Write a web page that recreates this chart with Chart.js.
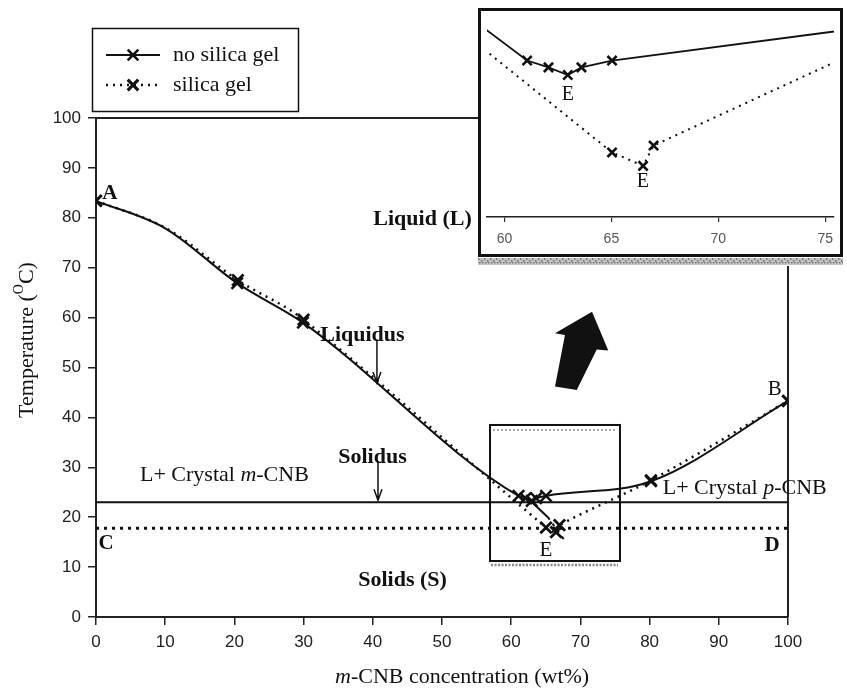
<!DOCTYPE html>
<html><head><meta charset="utf-8">
<script src="https://cdn.jsdelivr.net/npm/chart.js@4/dist/chart.umd.min.js"></script>
<style>
html,body{margin:0;padding:0;background:#fff;}
#wrap{position:relative;width:847px;height:692px;overflow:hidden;}
#main{position:absolute;left:0;top:0;}
#inset{position:absolute;left:478px;top:8px;}
</style></head><body>
<div id="wrap"><canvas id="main" width="847" height="692"></canvas><canvas id="inset" width="365" height="258"></canvas></div>
<script>
// ---- data ----
const xNoSilica = [0, 10, 20.4, 29.9, 61.06, 62.06, 62.96, 63.6, 65.03, 80.2, 100];
const tNoSilica = [83.4, 77.9, 66.9, 59.0, 24.27, 23.8, 23.27, 23.8, 24.27, 27.2, 43.3];
const xSilica = [0, 10, 20.5, 30, 65.03, 66.48, 66.97, 80.2, 100];
const tSilica = [83.4, 78.0, 67.5, 59.6, 17.93, 17.0, 18.4, 27.4, 43.3];
const curveOnlyX = [10];            // points on the curve that carry no marker
const solidusX = [0, 100];
const solidusNoSilica = [23.0, 23.0];
const solidusSilica = [17.8, 17.8];
const extensionX = [62.7, 65.3, 68.0];
const extensionT = [23.4, 20.0, 14.8];
const xTicks = [0, 10, 20, 30, 40, 50, 60, 70, 80, 90, 100];
const yTicks = [0, 10, 20, 30, 40, 50, 60, 70, 80, 90, 100];
const insetTicks = [60, 65, 70, 75];
const seriesNames = ['no silica gel', 'silica gel'];

const pts = (xs, ys) => xs.map((x, i) => ({x: x, y: ys[i]}));
const SERIF = '"Liberation Serif", "DejaVu Serif", serif';
const SANS = '"Liberation Sans", Arial, sans-serif';
const INK = '#111';

function drawRuns(ctx, runs, x, y, align) {
  let total = 0;
  runs.forEach(r => { ctx.font = r[1]; total += ctx.measureText(r[0]).width; });
  let cx = align === 'center' ? x - total / 2 : (align === 'right' ? x - total : x);
  ctx.textAlign = 'left';
  runs.forEach(r => { ctx.font = r[1]; ctx.fillText(r[0], cx, y + (r[2] || 0)); cx += ctx.measureText(r[0]).width; });
}
function cross(ctx, cx, cy, r, w) {
  const d = r * Math.SQRT1_2;
  ctx.save(); ctx.lineWidth = w; ctx.strokeStyle = INK; ctx.setLineDash([]);
  ctx.beginPath(); ctx.moveTo(cx - d, cy - d); ctx.lineTo(cx + d, cy + d);
  ctx.moveTo(cx + d, cy - d); ctx.lineTo(cx - d, cy + d); ctx.stroke(); ctx.restore();
}
function downArrow(ctx, x, yTop, yTip) {
  ctx.beginPath(); ctx.moveTo(x, yTop); ctx.lineTo(x, yTip);
  ctx.moveTo(x - 4, yTip - 11); ctx.lineTo(x, yTip); ctx.lineTo(x + 4, yTip - 11); ctx.stroke();
}

const decoMain = {
  id: 'decoMain',
  afterDraw(chart) {
    const {ctx, chartArea: a, scales} = chart;
    const X = v => scales.x.getPixelForValue(v), Y = v => scales.y.getPixelForValue(v);
    ctx.save();
    ctx.strokeStyle = '#222'; ctx.lineWidth = 2; ctx.setLineDash([]);
    ctx.beginPath(); ctx.moveTo(a.left, a.top); ctx.lineTo(a.right, a.top); ctx.lineTo(a.right, a.bottom); ctx.stroke();

    // zoom box
    const bx0 = X(56.94), bx1 = X(75.72), by0 = Y(38.48), by1 = Y(11.22);
    ctx.strokeStyle = INK; ctx.lineWidth = 2;
    ctx.strokeRect(bx0, by0, bx1 - bx0, by1 - by0);
    ctx.strokeStyle = '#8a8a8a'; ctx.lineWidth = 1.5; ctx.setLineDash([2, 2]);
    ctx.beginPath(); ctx.moveTo(bx0 + 3, by0 + 5); ctx.lineTo(bx1 - 3, by0 + 5); ctx.stroke();
    ctx.lineWidth = 2.5; ctx.setLineDash([2, 1.5]);
    ctx.beginPath(); ctx.moveTo(bx0 + 1, by1 + 4); ctx.lineTo(bx1 - 2, by1 + 4); ctx.stroke();
    ctx.setLineDash([]);

    // big arrow
    const arrow = [[71.68, 61.18], [74.03, 53.41], [72.36, 53.6], [69.47, 45.5], [66.33, 46.17], [67.77, 56.51], [66.33, 56.85]];
    ctx.fillStyle = INK; ctx.beginPath();
    arrow.forEach((p, i) => { const px = X(p[0]), py = Y(p[1]); i ? ctx.lineTo(px, py) : ctx.moveTo(px, py); });
    ctx.closePath(); ctx.fill();

    // labels
    ctx.fillStyle = INK; ctx.textBaseline = 'middle';
    const B22 = 'bold 22px ' + SERIF, R22 = '22px ' + SERIF, I22 = 'italic 22px ' + SERIF;
    drawRuns(ctx, [['A', 'bold 21px ' + SERIF]], X(2.0), Y(84.8), 'center');
    drawRuns(ctx, [['B', '21px ' + SERIF]], X(98.1), Y(45.5), 'center');
    drawRuns(ctx, [['C', 'bold 21px ' + SERIF]], X(1.45), Y(14.8), 'center');
    drawRuns(ctx, [['D', 'bold 21px ' + SERIF]], X(97.7), Y(14.4), 'center');
    drawRuns(ctx, [['E', '21px ' + SERIF]], X(65.0), Y(13.4), 'center');
    drawRuns(ctx, [['Liquid (L)', B22]], X(54.3), Y(79.6), 'right');
    drawRuns(ctx, [['Liquidus', B22]], X(32.4), Y(56.5), 'left');
    drawRuns(ctx, [['Solidus', B22]], X(35.0), Y(32.1), 'left');
    drawRuns(ctx, [['Solids (S)', B22]], X(37.9), Y(7.4), 'left');
    drawRuns(ctx, [['L+ Crystal ', R22], ['m', I22], ['-CNB', R22]], X(6.36), Y(28.5), 'left');
    drawRuns(ctx, [['L+ Crystal ', R22], ['p', I22], ['-CNB', R22]], X(81.9), Y(25.9), 'left');
    ctx.strokeStyle = INK; ctx.lineWidth = 1.5;
    downArrow(ctx, X(40.6), Y(55.6), Y(46.9));
    downArrow(ctx, X(40.75), Y(31.2), Y(23.4));

    // legend
    ctx.lineWidth = 1.5; ctx.strokeStyle = INK;
    ctx.strokeRect(92.5, 28.5, 206, 83);
    const ds = chart.data.datasets;
    [55, 85].forEach((ly, i) => {
      const d = ds[i];
      ctx.save(); ctx.strokeStyle = d.borderColor; ctx.lineWidth = d.borderWidth; ctx.setLineDash(d.borderDash || []);
      ctx.beginPath(); ctx.moveTo(106, ly); ctx.lineTo(160, ly); ctx.stroke(); ctx.restore();
      cross(ctx, 133, ly, 7.5, i ? 3.2 : 2.6);
      ctx.fillStyle = INK;
      drawRuns(ctx, [[seriesNames[i], R22]], 173, ly, 'left');
    });

    // axis titles
    drawRuns(ctx, [['m', I22], ['-CNB concentration (wt%)', R22]], 335, 677, 'left');
    ctx.save(); ctx.translate(27, 340); ctx.rotate(-Math.PI / 2);
    drawRuns(ctx, [['Temperature (', R22], ['O', '14px ' + SERIF, -8], ['C)', R22]], 0, 0, 'center');
    ctx.restore();
    ctx.restore();
  }
};

const axisCommon = (ticksArr, fitProp, fitVal) => ({
  type: 'linear', min: ticksArr[0], max: ticksArr[ticksArr.length - 1],
  afterBuildTicks: s => { s.ticks = ticksArr.map(v => ({value: v})); },
  afterFit: s => { s[fitProp] = fitVal; },
  ticks: {font: {family: SANS, size: 17}, color: '#222', padding: 7},
  grid: {drawOnChartArea: false, drawTicks: true, tickLength: 8, color: '#222', lineWidth: 1.5},
  border: {display: true, color: '#222', width: 2}
});

const markerRadius = r => ctx => (ctx.raw && curveOnlyX.includes(ctx.raw.x)) ? 0 : r;

new Chart(document.getElementById('main'), {
  type: 'line',
  data: {datasets: [
    {label: seriesNames[0], data: pts(xNoSilica, tNoSilica), borderColor: INK, borderWidth: 2, cubicInterpolationMode: 'monotone',
     pointStyle: 'crossRot', pointRadius: markerRadius(8), pointBorderWidth: 2.5, pointBorderColor: INK, pointBackgroundColor: INK},
    {label: seriesNames[1], data: pts(xSilica, tSilica), borderColor: INK, borderWidth: 2.5, borderDash: [2, 5], tension: 0.35,
     pointStyle: 'crossRot', pointRadius: markerRadius(8), pointBorderWidth: 2.8, pointBorderColor: INK, pointBackgroundColor: INK},
    {data: pts(solidusX, solidusNoSilica), borderColor: INK, borderWidth: 2, pointRadius: 0},
    {data: pts(solidusX, solidusSilica), borderColor: INK, borderWidth: 3, borderDash: [3, 5], pointRadius: 0},
    {data: pts(extensionX, extensionT), borderColor: INK, borderWidth: 2, pointRadius: 0,
     segment: {borderDash: c => c.p0DataIndex >= 1 ? [3, 5] : undefined}}
  ]},
  options: {
    responsive: false, animation: false, devicePixelRatio: 1,
    layout: {padding: {top: 118, right: 59, left: 0, bottom: 0}},
    plugins: {legend: {display: false}, tooltip: {enabled: false}},
    scales: {x: axisCommon(xTicks, 'height', 75), y: axisCommon(yTicks, 'width', 96)}
  },
  plugins: [decoMain]
});

const decoInset = {
  id: 'decoInset',
  beforeDraw(chart) { const c = chart.ctx; c.save(); c.fillStyle = '#fff'; c.fillRect(0, 0, chart.width, chart.height); c.restore(); },
  afterDraw(chart) {
    const {ctx, scales} = chart;
    const X = v => scales.x.getPixelForValue(v), Y = v => scales.y.getPixelForValue(v);
    ctx.save();
    ctx.strokeStyle = INK; ctx.lineWidth = 3; ctx.setLineDash([]);
    ctx.strokeRect(1.5, 1.5, 362, 246);
    ctx.fillStyle = '#c4c4c4'; ctx.fillRect(0, 250, 365, 7);
    ctx.fillStyle = '#7a7a7a';
    for (let i = 0; i < 365; i += 3) { ctx.fillRect(i, 250 + (i % 2) * 2, 1.5, 2); ctx.fillRect(i + 1, 254, 1.5, 1.5); }
    ctx.fillStyle = INK; ctx.textBaseline = 'middle';
    drawRuns(ctx, [['E', '20px ' + SERIF]], X(62.96), Y(21.93), 'center');
    drawRuns(ctx, [['E', '20px ' + SERIF]], X(66.47), Y(15.93), 'center');
    ctx.restore();
  }
};

new Chart(document.getElementById('inset'), {
  type: 'line',
  data: {datasets: [
    {data: pts(xNoSilica, tNoSilica), borderColor: INK, borderWidth: 1.8, tension: 0,
     pointStyle: 'crossRot', pointRadius: markerRadius(6.5), pointBorderWidth: 2.6, pointBorderColor: INK},
    {data: pts(xSilica, tSilica), borderColor: INK, borderWidth: 2, borderDash: [2, 5], tension: 0,
     pointStyle: 'crossRot', pointRadius: markerRadius(6.5), pointBorderWidth: 2.6, pointBorderColor: INK}
  ]},
  options: {
    responsive: false, animation: false, devicePixelRatio: 1,
    layout: {padding: {top: 2, right: 2, left: 2, bottom: 9}},
    plugins: {legend: {display: false}, tooltip: {enabled: false}},
    scales: {
      x: {type: 'linear', min: 59.19, max: 75.40,
          afterBuildTicks: s => { s.ticks = insetTicks.map(v => ({value: v})); },
          afterFit: s => { s.height = 40; },
          ticks: {font: {family: SANS, size: 14}, color: '#555', padding: 9},
          grid: {drawOnChartArea: false, drawTicks: true, tickLength: 5, color: '#333', lineWidth: 1.2},
          border: {display: true, color: '#222', width: 1.5}},
      y: {type: 'linear', display: false, min: 13.47, max: 27.27}
    }
  },
  plugins: [decoInset]
});
</script>
</body></html>
